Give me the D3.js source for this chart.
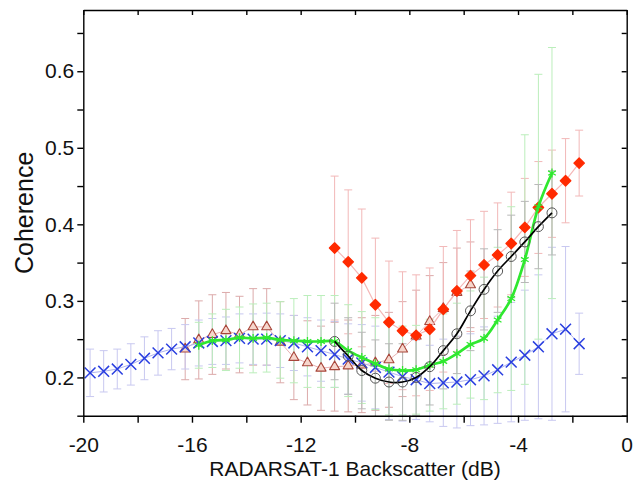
<!DOCTYPE html>
<html>
<head>
<meta charset="utf-8">
<script src="https://cdn.jsdelivr.net/npm/d3@7"></script>
<style>
  body { margin: 0; background: #fff; }
  text { font-family: "Liberation Sans", Arial, sans-serif; fill: #111; }
</style>
</head>
<body>
<div id="chart"></div>
<script>
// backscatter bin centres (dB)
const blueX = [-19.75, -19.25, -18.75, -18.25, -17.75, -17.25, -16.75, -16.25, -15.75, -15.25, -14.75, -14.25, -13.75,
  -13.25, -12.75, -12.25, -11.75, -11.25, -10.75, -10.25, -9.75, -9.25, -8.75, -8.25, -7.75, -7.25, -6.75,
  -6.25, -5.75, -5.25, -4.75, -4.25, -3.75, -3.25, -2.75, -2.25, -1.75];
const blueY = [0.206, 0.208, 0.211, 0.217, 0.225, 0.232, 0.237, 0.240, 0.245, 0.247, 0.248, 0.251, 0.250,
  0.250, 0.248, 0.245, 0.240, 0.235, 0.230, 0.224, 0.219, 0.213, 0.207, 0.201, 0.197, 0.192, 0.193,
  0.194, 0.197, 0.202, 0.210, 0.220, 0.229, 0.240, 0.257, 0.263, 0.244];
const blueErr = [0.031, 0.027, 0.026, 0.027, 0.028, 0.029, 0.027, 0.029, 0.030, 0.030, 0.031, 0.032, 0.033,
  0.034, 0.035, 0.036, 0.038, 0.040, 0.043, 0.046, 0.050, 0.054, 0.062, 0.058, 0.052, 0.050, 0.057,
  0.060, 0.060, 0.064, 0.070, 0.078, 0.085, 0.094, 0.113, 0.108, 0.040];

const brownX = [-16.25, -15.75, -15.25, -14.75, -14.25, -13.75, -13.25, -12.75, -12.25, -11.75, -11.25,
  -10.75, -10.25, -9.75, -9.25, -8.75, -8.25, -7.75, -7.25, -6.75, -6.25, -5.75];
const brownY = [0.237, 0.249, 0.256, 0.261, 0.256, 0.266, 0.266, 0.246, 0.226, 0.219, 0.212,
  0.214, 0.215, 0.216, 0.219, 0.223, 0.237, 0.254, 0.273, 0.290, 0.311, 0.321];
const brownErr = [0.040, 0.051, 0.052, 0.050, 0.050, 0.050, 0.050, 0.053, 0.055, 0.055, 0.055,
  0.058, 0.060, 0.062, 0.062, 0.062, 0.062, 0.060, 0.060, 0.060, 0.058, 0.056];

const redX = [-10.75, -10.25, -9.75, -9.25, -8.75, -8.25, -7.75, -7.25, -6.75, -6.25, -5.75, -5.25, -4.75,
  -4.25, -3.75, -3.25, -2.75, -2.25, -1.75];
const redY = [0.369, 0.351, 0.330, 0.295, 0.272, 0.261, 0.255, 0.263, 0.289, 0.313, 0.333, 0.347, 0.360,
  0.375, 0.396, 0.422, 0.440, 0.457, 0.480];
const redErr = [0.094, 0.094, 0.090, 0.087, 0.080, 0.077, 0.079, 0.080, 0.082, 0.079, 0.073, 0.070, 0.068,
  0.067, 0.064, 0.060, 0.057, 0.055, 0.043];

const greenX = [-15.75, -15.25, -14.75, -14.25, -13.75, -13.25, -12.75, -12.25, -11.75, -11.25, -10.75,
  -10.25, -9.75, -9.25, -8.75, -8.25, -7.75, -7.25, -6.75, -6.25, -5.75, -5.25, -4.75, -4.25, -3.75,
  -3.25, -2.75];
const greenY = [0.242, 0.248, 0.249, 0.252, 0.251, 0.252, 0.249, 0.248, 0.247, 0.247, 0.247,
  0.235, 0.226, 0.218, 0.211, 0.209, 0.210, 0.216, 0.221, 0.231, 0.243, 0.251, 0.275, 0.303, 0.354,
  0.423, 0.467];
const greenErr = [0.030, 0.035, 0.040, 0.040, 0.045, 0.045, 0.050, 0.055, 0.060, 0.060, 0.060,
  0.060, 0.060, 0.060, 0.060, 0.058, 0.058, 0.060, 0.062, 0.066, 0.070, 0.080, 0.095, 0.120, 0.163,
  0.173, 0.164];

const blackX = [-10.75, -10.25, -9.75, -9.25, -8.75, -8.25, -7.75, -7.25, -6.75, -6.25, -5.75, -5.25,
  -4.75, -4.25, -3.75, -3.25, -2.75];
const blackY = [0.247, 0.228, 0.209, 0.199, 0.194, 0.194, 0.200, 0.214, 0.235, 0.257, 0.287, 0.315,
  0.339, 0.358, 0.377, 0.397, 0.415];
const blackErr = [0.050, 0.050, 0.050, 0.050, 0.050, 0.050, 0.050, 0.050, 0.050, 0.052, 0.052, 0.053,
  0.054, 0.054, 0.053, 0.055, 0.055];

const xTicks = [-20, -18, -16, -14, -12, -10, -8, -6, -4, -2, 0];
const yTicks = [0.15, 0.2, 0.25, 0.3, 0.35, 0.4, 0.45, 0.5, 0.55, 0.6, 0.65];

const width = 633, height = 480;
const margin = {top: 10, right: 6.3, bottom: 64.3, left: 83.3};
const w = width - margin.left - margin.right;
const h = height - margin.top - margin.bottom;

const svg = d3.select('#chart').append('svg')
  .attr('width', width)
  .attr('height', height);

const g = svg.append('g')
  .attr('transform', `translate(${margin.left},${margin.top})`);

const x = d3.scaleLinear().domain([-20, 0]).range([0, w]);
const y = d3.scaleLinear().domain([0.15, 0.68]).range([h, 0]);

// series setup, drawn back to front
const series = [
  {xs: brownX, ys: brownY, err: brownErr, bar: '#dcaaaa', line: '#e9b3b3', lw: 1, curve: d3.curveLinear,
    symbol: d3.symbolTriangle2, size: 72, fill: '#f6d6cc', stroke: '#a8463a', sw: 1.1},
  {xs: redX, ys: redY, err: redErr, bar: '#f2b8b8', line: '#f5b7b7', lw: 1.2, curve: d3.curveLinear,
    symbol: d3.symbolDiamond2, size: 70, fill: '#ff2a00', stroke: '#ff2a00', sw: 1.3},
  {xs: blueX, ys: blueY, err: blueErr, bar: '#c8c8f0', line: '#b0b4f0', lw: 1, curve: d3.curveLinear,
    symbol: d3.symbolTimes, size: 78, fill: 'none', stroke: '#2a3fe0', sw: 1.5},
  {xs: greenX, ys: greenY, err: greenErr, bar: '#bbeebb', line: '#2fe82f', lw: 2.7, curve: d3.curveCatmullRom,
    symbol: d3.symbolAsterisk, size: 55, fill: 'none', stroke: '#2fe82f', sw: 1.3},
  {xs: blackX, ys: blackY, err: blackErr, bar: '#b8b8b8', line: '#000', lw: 1.7, curve: d3.curveCatmullRom,
    symbol: d3.symbolCircle, size: 78, fill: 'none', stroke: '#555', sw: 1}
];

// error bars first
const capW = 4;
series.forEach(s => {
  const pts = s.xs.map((d, i) => ({x: d, y: s.ys[i], e: s.err[i]}));
  const eb = g.append('g').attr('stroke', s.bar).attr('stroke-width', 1).attr('fill', 'none');
  eb.selectAll('line.v').data(pts).join('line').classed('v', true)
    .attr('x1', d => x(d.x)).attr('x2', d => x(d.x))
    .attr('y1', d => y(d.y - d.e)).attr('y2', d => y(d.y + d.e));
  eb.selectAll('line.t').data(pts).join('line').classed('t', true)
    .attr('x1', d => x(d.x) - capW).attr('x2', d => x(d.x) + capW)
    .attr('y1', d => y(d.y + d.e)).attr('y2', d => y(d.y + d.e));
  eb.selectAll('line.b').data(pts).join('line').classed('b', true)
    .attr('x1', d => x(d.x) - capW).attr('x2', d => x(d.x) + capW)
    .attr('y1', d => y(d.y - d.e)).attr('y2', d => y(d.y - d.e));
});

// lines and markers
series.forEach(s => {
  const pts = s.xs.map((d, i) => [d, s.ys[i]]);
  g.append('path')
    .datum(pts)
    .attr('fill', 'none')
    .attr('stroke', s.line)
    .attr('stroke-width', s.lw)
    .attr('d', d3.line().x(d => x(d[0])).y(d => y(d[1])).curve(s.curve));
  g.append('g').selectAll('path')
    .data(pts)
    .join('path')
    .attr('transform', d => `translate(${x(d[0])},${y(d[1])})`)
    .attr('d', d3.symbol().type(s.symbol).size(s.size))
    .attr('fill', s.fill)
    .attr('stroke', s.stroke)
    .attr('stroke-width', s.sw)
    .attr('stroke-linejoin', 'round');
});

// axes
const fmtX = d => (d % 4 === 0 ? String(d) : '');
const fmtY = d => (Math.round(d * 100) % 10 === 0 && d > 0.16 ? d.toFixed(1) : '');

const axB = g.append('g').attr('transform', `translate(0,${h})`)
  .call(d3.axisBottom(x).tickValues(xTicks).tickFormat(fmtX).tickSize(7).tickPadding(14).tickSizeOuter(0));
const axT = g.append('g')
  .call(d3.axisTop(x).tickValues(xTicks).tickFormat('').tickSize(-5).tickSizeOuter(0));
const axL = g.append('g')
  .call(d3.axisLeft(y).tickValues(yTicks).tickFormat(fmtY).tickSize(6).tickPadding(3).tickSizeOuter(0));
const axR = g.append('g').attr('transform', `translate(${w},0)`)
  .call(d3.axisRight(y).tickValues(yTicks).tickFormat('').tickSize(-5).tickSizeOuter(0));

[axB, axT, axL, axR].forEach(a => {
  a.selectAll('path, line').attr('stroke', '#000').attr('stroke-width', 1.4);
  a.selectAll('text').style('font-size', '21px').attr('fill', '#111');
});

// axis titles
svg.append('text')
  .attr('x', margin.left + w / 2)
  .attr('y', 476)
  .attr('text-anchor', 'middle')
  .style('font-size', '21px')
  .text('RADARSAT-1 Backscatter (dB)');

svg.append('text')
  .attr('transform', `translate(33,${margin.top + h / 2}) rotate(-90)`)
  .attr('text-anchor', 'middle')
  .style('font-size', '25px')
  .text('Coherence');
</script>
</body>
</html>
